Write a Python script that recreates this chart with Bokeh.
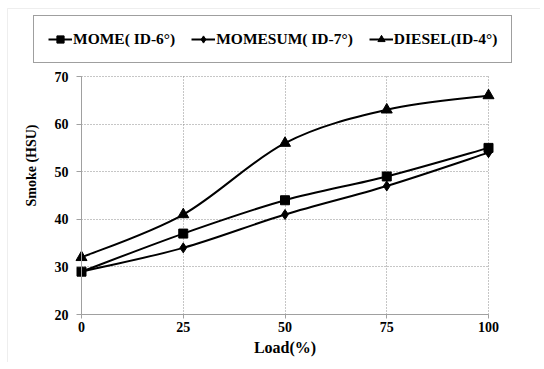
import math
from bokeh.plotting import figure
from bokeh.models import (Range1d, FixedTicker, Legend, LegendItem, Label,
                          LinearAxis, BoxAnnotation, ColumnDataSource)
from bokeh.embed import file_html
from bokeh.resources import INLINE

# ---- data ----
load = [0, 25, 50, 75, 100]
mome = [29, 37, 44, 49, 55]
momesum = [29, 34, 41, 47, 54]
diesel = [32, 41, 56, 63, 66]
series_labels = ["MOME( ID-6°)", "MOMESUM( ID-7°)", "DIESEL(ID-4°)"]
x_ticks = [0, 25, 50, 75, 100]
y_ticks = [20, 30, 40, 50, 60, 70]
X_MIN, X_MAX = 0, 100
Y_MIN, Y_MAX = 20, 70

FONT = "Liberation Serif"

# ---- layout (pixels inside the figure) ----
W, H = 540, 362
PX_L, PX_R = 81, 488      # where X_MIN / X_MAX fall
PX_T, PX_B = 76, 314      # where Y_MAX / Y_MIN fall (from top)
sx = (PX_R - PX_L) / (X_MAX - X_MIN)
sy = (PX_B - PX_T) / (Y_MAX - Y_MIN)
x_lo = X_MIN - PX_L / sx
x_hi = X_MAX + (W - PX_R) / sx
y_hi = Y_MAX + PX_T / sy
y_lo = Y_MIN - (H - PX_B) / sy


def dx(px):
    return X_MIN + (px - PX_L) / sx


def dy(py):
    return Y_MAX - (py - PX_T) / sy


p = figure(width=W, height=H, output_backend="svg", toolbar_location=None,
           x_range=Range1d(x_lo, x_hi), y_range=Range1d(y_lo, y_hi),
           x_axis_location=None, y_axis_location=None, min_border=0, tools="")
p.outline_line_color = None
p.background_fill_color = "white"
p.border_fill_color = "white"

# outer frame (top and left edges of the picture box)
p.add_layout(BoxAnnotation(left=dx(7), top=dy(8), right=x_hi + 50, bottom=y_lo - 50,
                           fill_alpha=0, line_color="#c8c8c8", line_width=1))

# grid
p.xgrid.ticker = FixedTicker(ticks=x_ticks)
p.ygrid.ticker = FixedTicker(ticks=y_ticks)
p.xgrid.bounds = (X_MIN, X_MAX)
p.ygrid.bounds = (Y_MIN, Y_MAX)
try:
    p.xgrid.cross_bounds = (Y_MIN, Y_MAX)
    p.ygrid.cross_bounds = (X_MIN, X_MAX)
    grid_ok = True
except Exception:
    grid_ok = False
for g in (p.xgrid, p.ygrid):
    g.grid_line_color = "#8c8c8c"
    g.grid_line_dash = "1 2"
    g.grid_line_width = 1
if not grid_ok:
    p.xgrid.visible = False
    p.ygrid.visible = False
    p.segment(x0=x_ticks, y0=[Y_MIN] * len(x_ticks), x1=x_ticks,
              y1=[Y_MAX] * len(x_ticks), line_color="#8c8c8c", line_dash="1 2")
    p.segment(x0=[X_MIN] * len(y_ticks), y0=y_ticks, x1=[X_MAX] * len(y_ticks),
              y1=y_ticks, line_color="#8c8c8c", line_dash="1 2")

# axes
xaxis = LinearAxis(fixed_location=Y_MIN, bounds=(X_MIN, X_MAX),
                   ticker=FixedTicker(ticks=x_ticks))
yaxis = LinearAxis(fixed_location=X_MIN, bounds=(Y_MIN, Y_MAX),
                   ticker=FixedTicker(ticks=y_ticks))
for ax in (xaxis, yaxis):
    ax.axis_line_color = "#a0a0a0"
    ax.major_tick_line_color = "#a0a0a0"
    ax.minor_tick_line_color = None
    ax.major_tick_in = 0
    ax.major_label_text_font = FONT
    ax.major_label_text_font_style = "bold"
    ax.major_label_text_font_size = "14px"
    ax.major_label_text_color = "black"
xaxis.major_tick_out = 4
xaxis.major_label_standoff = 3
yaxis.major_tick_out = 5
yaxis.major_label_standoff = 8
xaxis.axis_label = "Load(%)"
xaxis.axis_label_text_font = FONT
xaxis.axis_label_text_font_style = "bold"
xaxis.axis_label_text_font_size = "16px"
xaxis.axis_label_text_color = "black"
xaxis.axis_label_standoff = 4
p.add_layout(xaxis, "below")
p.add_layout(yaxis, "left")

p.add_layout(Label(x=dx(31), y=dy(165), text="Smoke (HSU)", angle=math.pi / 2,
                   text_align="center", text_baseline="middle",
                   text_font=FONT, text_font_style="bold",
                   text_font_size="14px", text_color="black"))


def bezier_segments(xs, ys):
    n = len(xs)
    out = dict(x0=[], y0=[], x1=[], y1=[], cx0=[], cy0=[], cx1=[], cy1=[])
    for i in range(n - 1):
        xp, yp = (xs[i - 1], ys[i - 1]) if i > 0 else (xs[i], ys[i])
        xn2, yn2 = (xs[i + 2], ys[i + 2]) if i + 2 < n else (xs[i + 1], ys[i + 1])
        out["x0"].append(xs[i]); out["y0"].append(ys[i])
        out["x1"].append(xs[i + 1]); out["y1"].append(ys[i + 1])
        out["cx0"].append(xs[i] + (xs[i + 1] - xp) / 6)
        out["cy0"].append(ys[i] + (ys[i + 1] - yp) / 6)
        out["cx1"].append(xs[i + 1] - (xn2 - xs[i]) / 6)
        out["cy1"].append(ys[i + 1] - (yn2 - ys[i]) / 6)
    return out


markers = ["square", "diamond", "triangle"]
sizes = [9, 10, 11]
items = []
for vals, lab, mk, sz in zip([mome, momesum, diesel], series_labels, markers, sizes):
    seg = ColumnDataSource(bezier_segments(load, vals))
    bz = p.bezier(x0="x0", y0="y0", x1="x1", y1="y1", cx0="cx0", cy0="cy0",
                  cx1="cx1", cy1="cy1", source=seg, line_color="black",
                  line_width=2)
    sc = p.scatter(load, vals, marker=mk, size=sz, fill_color="black",
                   line_color="black")
    items.append(LegendItem(label=lab, renderers=[bz, sc]))

legend = Legend(items=items, orientation="horizontal", location=(33, H - 63),
                label_text_font=FONT, label_text_font_style="bold",
                label_text_font_size="15.5px", label_text_color="black",
                glyph_width=24, glyph_height=18, label_standoff=1,
                spacing=16, padding=14, margin=0,
                border_line_color="#404040", border_line_width=1,
                background_fill_color="white", background_fill_alpha=1)
p.add_layout(legend)

open("out.html", "w").write(file_html(p, INLINE))
